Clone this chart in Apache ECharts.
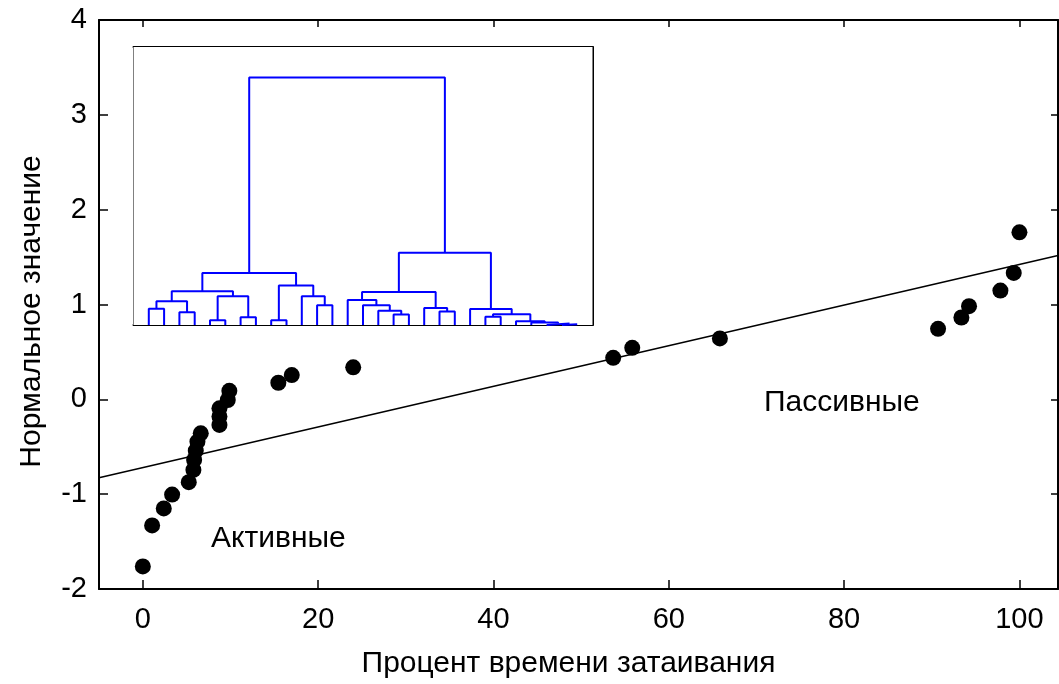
<!DOCTYPE html>
<html>
<head>
<meta charset="utf-8">
<script src="https://cdn.jsdelivr.net/npm/echarts@6.0.0/dist/echarts.min.js"></script>
<style>html,body{margin:0;padding:0;background:#fff;}#c{width:1059px;height:684px;}</style>
</head>
<body>
<div id="c"></div>
<script>
// ---- data ----
const xTickValues = [0, 20, 40, 60, 80, 100];
const yTickValues = [-2, -1, 0, 1, 2, 3, 4];
const pctTime = [0, 1.06, 2.39, 3.34, 5.24, 5.77, 5.85, 6.04, 6.23, 6.61, 8.74, 8.74, 8.74, 9.69, 9.87,
  15.46, 16.99, 24.0, 53.66, 55.83, 65.83, 90.72, 93.38, 94.25, 97.83, 99.35, 100.0];
const normalValue = [-1.762, -1.33, -1.15, -1.004, -0.874, -0.744, -0.639, -0.541, -0.446, -0.358, -0.27, -0.18, -0.095, -0.007, 0.09,
  0.175, 0.256, 0.337, 0.438, 0.543, 0.642, 0.743, 0.863, 0.982, 1.147, 1.333, 1.761];
const fitLineX = [-5, 104.4];
const fitLineY = [-0.828, 1.517];
// dendrogram: 29 leaves, merges [childA, childB, height]; ids >= 29 refer to merge (id-29)
const leafCount = 29;
const merges = [
  [27, 28, 0.02], [26, 29, 0.04], [25, 30, 0.07], [24, 31, 0.11], [4, 5, 0.14], [8, 9, 0.14],
  [6, 7, 0.22], [22, 23, 0.24], [16, 17, 0.30], [36, 32, 0.31], [2, 3, 0.37], [19, 20, 0.39],
  [15, 37, 0.41], [21, 38, 0.46], [0, 1, 0.47], [18, 40, 0.49], [11, 12, 0.57], [14, 41, 0.57],
  [43, 39, 0.68], [13, 46, 0.72], [33, 35, 0.83], [10, 45, 0.83], [48, 44, 0.95], [47, 49, 0.97],
  [34, 50, 1.14], [52, 53, 1.50], [51, 42, 2.08], [54, 55, 7.12]
];
const labelActive = 'Активные';
const labelPassive = 'Пассивные';
const xName = 'Процент времени затаивания';
const yName = 'Нормальное значение';

// ---- build ----
const FONT = '"Liberation Sans", Arial, sans-serif';
const nodeX = [], nodeH = [];
for (let i = 0; i < leafCount; i++) { nodeX.push(i); nodeH.push(0); }
const dendroSeries = merges.map(([a, b, h]) => {
  const xa = nodeX[a], xb = nodeX[b];
  nodeX.push((xa + xb) / 2); nodeH.push(h);
  return {
    type: 'line', xAxisIndex: 2, yAxisIndex: 2, symbol: 'none', silent: true,
    lineStyle: { color: '#0000ff', width: 2 }, z: 5,
    data: [[xa, nodeH[a]], [xa, h], [xb, h], [xb, nodeH[b]]]
  };
});

const option = {
  animation: false,
  backgroundColor: '#fff',
  textStyle: { fontFamily: FONT },
  grid: [
    { left: 99, right: 1, top: 20, bottom: 94 },
    { left: 133.5, top: 47, width: 459, height: 278, show: true, backgroundColor: '#fff', borderWidth: 0, z: 3 }
  ],
  xAxis: [
    { type: 'value', gridIndex: 0, min: -5, max: 104.4, position: 'bottom',
      axisLine: { show: true, onZero: false, lineStyle: { color: '#000', width: 2 } },
      axisTick: { show: true, inside: true, length: 9, customValues: xTickValues, lineStyle: { color: '#000', width: 1.5 } },
      axisLabel: { show: true, customValues: xTickValues, color: '#000', fontSize: 29, fontFamily: FONT, margin: 16 },
      splitLine: { show: false },
      name: xName, nameLocation: 'middle', nameGap: 60,
      nameTextStyle: { color: '#000', fontSize: 30, fontFamily: FONT, padding: [0, 20, 0, 0] } },
    { type: 'value', gridIndex: 0, min: -5, max: 104.4, position: 'top',
      axisLine: { show: true, onZero: false, lineStyle: { color: '#000', width: 2 } },
      axisTick: { show: true, inside: true, length: 7, customValues: xTickValues, lineStyle: { color: '#000', width: 1.5 } },
      axisLabel: { show: false }, splitLine: { show: false } },
    { type: 'value', gridIndex: 1, min: -1, max: 29, position: 'bottom',
      axisLine: { show: true, onZero: false, lineStyle: { color: '#000', width: 2 } },
      axisTick: { show: false }, axisLabel: { show: false }, splitLine: { show: false } },
    { type: 'value', gridIndex: 1, min: -1, max: 29, position: 'top',
      axisLine: { show: true, onZero: false, lineStyle: { color: '#000', width: 2 } },
      axisTick: { show: false }, axisLabel: { show: false }, splitLine: { show: false } }
  ],
  yAxis: [
    { type: 'value', gridIndex: 0, min: -2, max: 4, interval: 1, position: 'left',
      axisLine: { show: true, onZero: false, lineStyle: { color: '#000', width: 2 } },
      axisTick: { show: true, inside: true, length: 9, lineStyle: { color: '#000', width: 1.5 } },
      axisLabel: { show: true, color: '#000', fontSize: 29, fontFamily: FONT, margin: 12 },
      splitLine: { show: false },
      name: yName, nameLocation: 'middle', nameGap: 52, nameRotate: 90,
      nameTextStyle: { color: '#000', fontSize: 30, fontFamily: FONT, padding: [0, 14, 0, 0] } },
    { type: 'value', gridIndex: 0, min: -2, max: 4, interval: 1, position: 'right',
      axisLine: { show: true, onZero: false, lineStyle: { color: '#000', width: 2 } },
      axisTick: { show: true, inside: true, length: 7, lineStyle: { color: '#000', width: 1.5 } },
      axisLabel: { show: false }, splitLine: { show: false } },
    { type: 'value', gridIndex: 1, min: 0, max: 8, interval: 1, position: 'left',
      axisLine: { show: true, onZero: false, lineStyle: { color: '#000', width: 2 } },
      axisTick: { show: true, inside: true, length: 9, lineStyle: { color: '#000', width: 2 } },
      axisLabel: { show: false }, splitLine: { show: false } },
    { type: 'value', gridIndex: 1, min: 0, max: 8, interval: 1, position: 'right',
      axisLine: { show: true, onZero: false, lineStyle: { color: '#000', width: 2 } },
      axisTick: { show: true, inside: true, length: 9, lineStyle: { color: '#000', width: 2 } },
      axisLabel: { show: false }, splitLine: { show: false } }
  ],
  series: [
    { type: 'line', xAxisIndex: 0, yAxisIndex: 0, symbol: 'none', silent: true,
      lineStyle: { color: '#000', width: 1.5 },
      data: fitLineX.map((x, i) => [x, fitLineY[i]]) },
    { type: 'scatter', xAxisIndex: 0, yAxisIndex: 0, symbol: 'circle', symbolSize: 16,
      itemStyle: { color: '#000', opacity: 1 }, silent: true,
      data: pctTime.map((x, i) => [x, normalValue[i]]) },
    ...dendroSeries
  ],
  graphic: [
    { type: 'text', left: 211, top: 524, silent: true,
      style: { text: labelActive, fill: '#000', font: '30px ' + FONT } },
    { type: 'text', left: 764, top: 388, silent: true,
      style: { text: labelPassive, fill: '#000', font: '30px ' + FONT } }
  ]
};
const chart = echarts.init(document.getElementById('c'), null, { renderer: 'canvas' });
chart.setOption(option);
</script>
</body>
</html>
